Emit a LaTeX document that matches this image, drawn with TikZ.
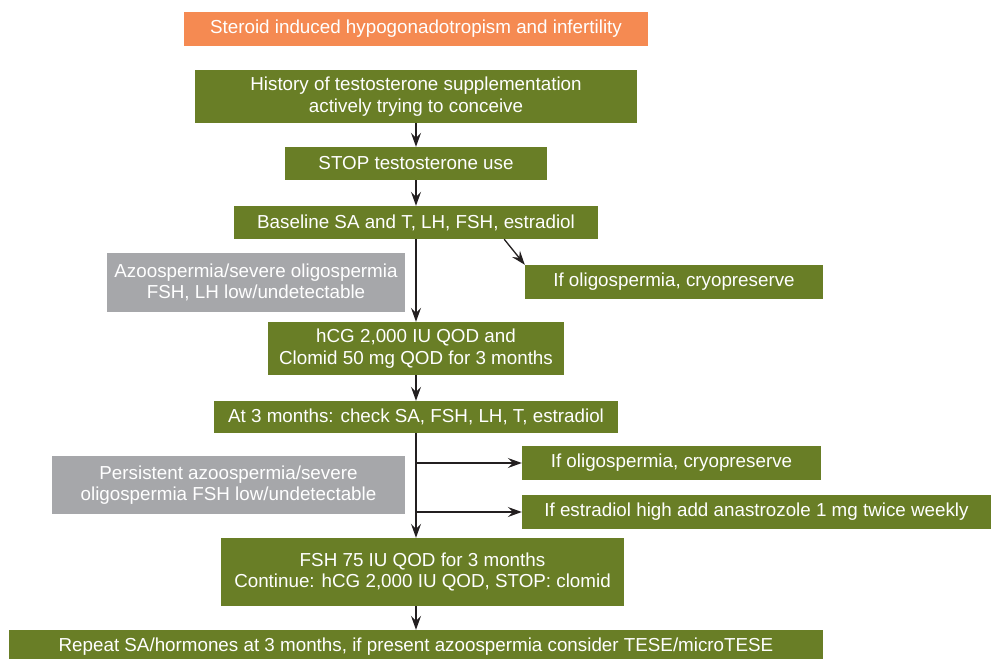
\documentclass[tikz,border=0pt]{standalone}
\usepackage{fontspec}
\setmainfont{Liberation Sans}
\usetikzlibrary{arrows.meta,calc}
\definecolor{boxgreen}{RGB}{105,126,38}
\definecolor{boxorange}{RGB}{245,138,82}
\definecolor{boxgray}{RGB}{166,167,170}
\definecolor{linedark}{RGB}{35,31,32}
\tikzset{
  basebox/.style={rectangle, inner sep=0pt, text=white, align=center,
    font=\fontsize{18.8}{21.5}\selectfont},
  greenbox/.style={basebox, fill=boxgreen},
  orangebox/.style={basebox, fill=boxorange},
  graybox/.style={basebox, fill=boxgray},
  flow/.style={draw=linedark, line width=1.3pt, -{Stealth[length=14pt,width=10pt,inset=5pt]}}
}
\begin{document}
\begin{tikzpicture}[x=1pt,y=-1pt]
\clip (0,0) rectangle (992,658);
\fill[white] (0,0) rectangle (992,658);
\node[orangebox, minimum width=464pt, minimum height=34pt] (top) at (416,29) {Steroid induced hypogonadotropism and infertility};
\node[greenbox, minimum width=442pt, minimum height=53pt] (hist) at (416,96.5) {History of testosterone supplementation\\actively trying to conceive};
\node[greenbox, minimum width=262pt, minimum height=33pt] (stop) at (416,163.5) {STOP testosterone use};
\node[greenbox, minimum width=364pt, minimum height=33pt] (base) at (416,222.5) {Baseline SA and T, LH, FSH, estradiol};
\node[graybox, minimum width=298pt, minimum height=59pt] (gray1) at (256,282.5) {Azoospermia/severe oligospermia\\FSH, LH low/undetectable};
\node[greenbox, minimum width=298pt, minimum height=34pt] (oligo1) at (674,282) {If oligospermia, cryopreserve};
\node[greenbox, minimum width=296pt, minimum height=53pt] (hcg) at (416,348.5) {hCG 2,000 IU QOD and\\Clomid 50 mg QOD for 3 months};
\node[greenbox, minimum width=404pt, minimum height=32pt] (at3) at (416,417) {At 3 months: check SA, FSH, LH, T, estradiol};
\node[graybox, minimum width=353pt, minimum height=58pt] (gray2) at (228.5,485) {Persistent azoospermia/severe\\oligospermia FSH low/undetectable};
\node[greenbox, minimum width=299pt, minimum height=34pt] (oligo2) at (671.5,463) {If oligospermia, cryopreserve};
\node[greenbox, minimum width=469pt, minimum height=34pt] (estr) at (756.5,512) {If estradiol high add anastrozole 1 mg twice weekly};
\node[greenbox, minimum width=403pt, minimum height=68pt] (fsh) at (422.5,572) {FSH 75 IU QOD for 3 months\\Continue: hCG 2,000 IU QOD, STOP: clomid};
\node[greenbox, minimum width=814pt, minimum height=34pt] (rep) at (416,647) {Repeat SA/hormones at 3 months, if present azoospermia consider TESE/microTESE};
\draw[flow] (hist.south) -- (stop.north);
\draw[flow] (stop.south) -- (base.north);
\draw[flow] (base.south) -- (hcg.north);
\draw[flow] (hcg.south) -- (at3.north);
\draw[flow] (at3.south) -- (at3.south |- fsh.north);
\draw[flow] (rep.north |- fsh.south) -- (rep.north);
\draw[flow] ($(base.south west)!0.742!(base.south east)$) -- (oligo1.north west);
\draw[flow] (at3.south |- oligo2.west) -- (oligo2.west);
\draw[flow] (at3.south |- estr.west) -- (estr.west);
\end{tikzpicture}
\end{document}
